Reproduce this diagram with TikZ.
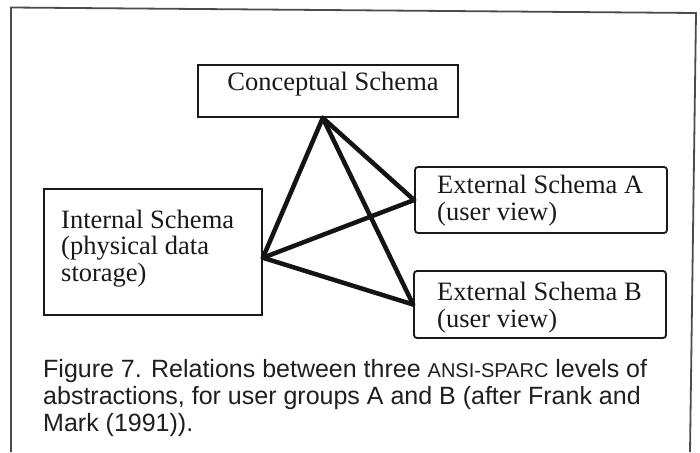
\documentclass[tikz,border=0pt]{standalone}
\usepackage{fontspec}
\setmainfont{Liberation Serif}
\newfontfamily\capfont{Liberation Sans}
\begin{document}
\begin{tikzpicture}[x=1pt,y=-1pt,
  box/.style={draw=black!90, line width=1.8pt, inner sep=0pt},
  rbox/.style={box, rounded corners=3pt},
  lbl/.style={inner sep=0pt, anchor=base west, align=left,
    font=\fontsize{26.5}{26.3}\selectfont, text=black!90},
  link/.style={line width=4.5pt, line cap=round, draw=black!92}]
  % page
  \fill[white] (0,0) rectangle (700,452);
  \useasboundingbox (0,0) rectangle (700,452);
  % outer frame (open at the bottom)
  \draw[line width=1.8pt, black!70] (11,452) -- (11,7.5) -- (696,13) -- (690,452);

  % boxes
  \node[box, minimum width=260pt, minimum height=52pt] (con) at (328,91) {};
  \node[box, minimum width=218pt, minimum height=126pt] (int) at (153,252) {};
  \node[rbox, minimum width=252pt, minimum height=66pt] (exa) at (541,200) {};
  \node[rbox, minimum width=252pt, minimum height=67pt] (exb) at (540,304.5) {};

  % box texts (base anchor sits on the last line)
  \node[lbl, anchor=base] (conT) at (333,90) {Conceptual Schema};
  \node[lbl] (intT) at (61,281) {Internal Schema\\(physical data\\storage)};
  \node[lbl] (exaT) at (437,220) {External Schema A\\(user view)};
  \node[lbl] (exbT) at (437,327) {External Schema B\\(user view)};

  % relations
  \draw[link] (con.259) -- (int.-3);
  \draw[link] (con.259) -- (exa.west);
  \draw[link] (con.259) -- (exb.west);
  \draw[link] (int.-3) -- (exa.west);
  \draw[link] (int.-3) -- (exb.west);

  % caption
  \node[inner sep=0pt, anchor=base west, align=left, text=black!88,
        font=\capfont\fontsize{25}{27}\selectfont] (cap) at (43,431)
    {Figure 7. Relations between three {\fontsize{20}{27}\selectfont ANSI-SPARC} levels of\\
     abstractions, for user groups A and B (after Frank and\\
     Mark (1991)).};
\end{tikzpicture}
\end{document}
